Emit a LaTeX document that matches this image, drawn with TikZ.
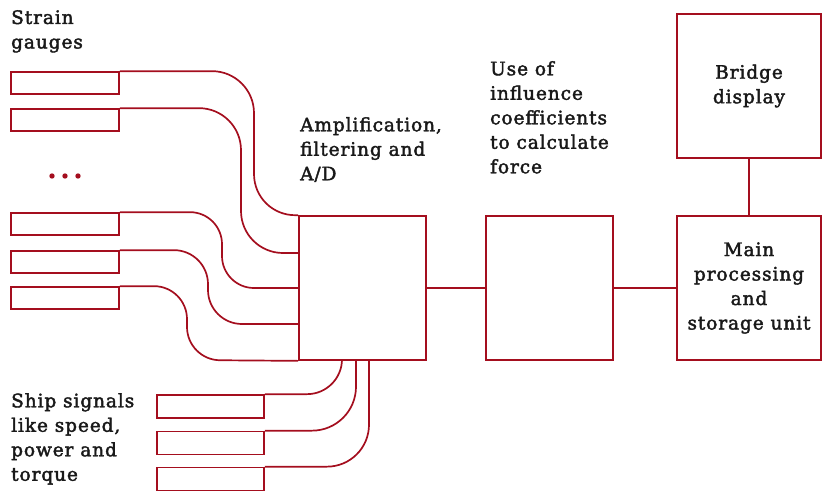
\documentclass[tikz,border=0pt]{standalone}
\usepackage{fontspec}
\setmainfont{DejaVu Serif}
\newfontfamily\etiq{DejaVu Serif}[FakeBold=2.2,LetterSpace=5]
\usetikzlibrary{calc}
\definecolor{rouge}{RGB}{164,14,30}
\tikzset{
    fil/.style={draw=rouge,line width=1.7pt},
    jauge/.style={fil,minimum width=108pt,minimum height=22pt,inner sep=0pt},
    bloc/.style={fil,minimum width=127pt,minimum height=144pt,inner sep=0pt},
    carre/.style={fil,minimum width=144pt,minimum height=144pt,inner sep=0pt,align=center},
    texte/.style={inner sep=0pt,align=left,anchor=north west},
  }
\begin{document}
\begin{tikzpicture}[x=1pt,y=1pt,font=\etiq\fontsize{18.5}{24.5}\selectfont,text=black!90]
                  %cadre
                  \useasboundingbox (0,0) rectangle (829,-493);
                  %jauges
                  \node[jauge] (g1) at (65,-83) {};
                  \node[jauge] (g2) at (65,-120) {};
                  \node[jauge] (g3) at (65,-224) {};
                  \node[jauge] (g4) at (65,-262) {};
                  \node[jauge] (g5) at (65,-298) {};
                  \fill[rouge] (52,-176) circle (2.7) (65,-176) circle (2.7) (78,-176) circle (2.7);
                  %signaux du navire
                  \node[jauge,minimum width=107pt,minimum height=23pt] (s1) at (210.5,-406.5) {};
                  \node[jauge,minimum width=107pt,minimum height=23pt] (s2) at (210.5,-443) {};
                  \node[jauge,minimum width=107pt,minimum height=23pt] (s3) at (210.5,-479) {};
                  %blocs
                  \node[bloc] (A) at (362.5,-288) {};
                  \node[bloc] (B) at (549.5,-288) {};
                  \node[carre] (C) at (749,-288) {Main\\processing\\and\\storage unit};
                  \node[carre] (D) at (749,-86) {Bridge\\display};
                  %textes
                  \node[texte] (tg) at (11,-10) {Strain\\gauges};
                  \node[texte] (ta) at (300,-117) {Amplification,\\filtering and\\A/D};
                  \node[texte] (tb) at (490,-61) {Use of\\influence\\coefficients\\to calculate\\force};
                  \node[texte] (ts) at (11,-393) {Ship signals\\like speed,\\power and\\torque};
                  %fils
                  \draw[fil] (g1.north east) [rounded corners=42pt] -| (254,-216) [rounded corners=21pt] -- (A.north west);
                  \draw[fil] (g2.north east) [rounded corners=42pt] -| (241,-253) [rounded corners=21pt] -- (A.west |- 0,-253);
                  \draw[fil] (g3.north east) [rounded corners=32pt] -| (222,-288) [rounded corners=21pt] -- (A.west |- 0,-288);
                  \draw[fil] (g4.north east) [rounded corners=34pt] -| (208,-324) [rounded corners=21pt] -- (A.west |- 0,-324);
                  \draw[fil] (g5.north east) [rounded corners=33pt] -| (187,-360) [rounded corners=21pt] -- (A.south west);
                  \draw[fil] (s1.north east) [rounded corners=35pt] -| (A.south west -| 342,0);
                  \draw[fil] (s2.north east) [rounded corners=44pt] -| (A.south west -| 356,0);
                  \draw[fil] (s3.north east) [rounded corners=42pt] -| (A.south west -| 369,0);
                  %liaisons
                  \draw[fil] (A.east) -- (B.west);
                  \draw[fil] (B.east) -- (C.west);
                  \draw[fil] (D.south) -- (C.north);
\end{tikzpicture}
\end{document}
